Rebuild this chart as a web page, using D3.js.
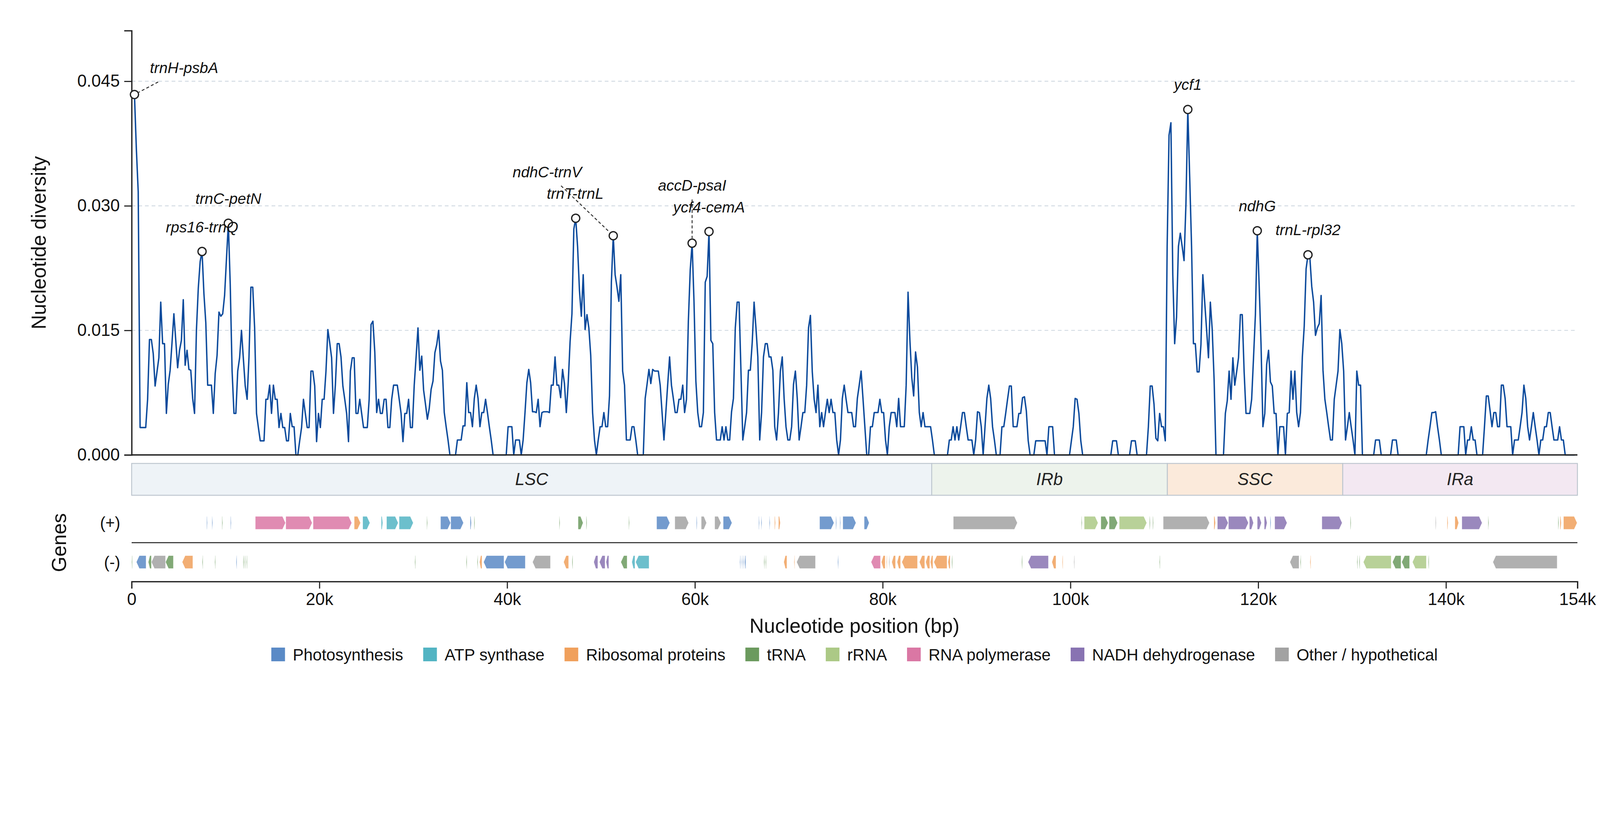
<!DOCTYPE html>
<html>
<head>
<meta charset="utf-8">
<script src="https://cdn.jsdelivr.net/npm/d3@7"></script>
<style>
  html, body { margin: 0; padding: 0; background: #fff; overflow: hidden; }
  svg { font-family: "Liberation Sans", Arial, sans-serif; display: block; width: 100vw; height: 100vh; }
</style>
</head>
<body>
<svg id="chart" viewBox="0 0 4322 2102" preserveAspectRatio="xMidYMin meet"></svg>
<script>
// sliding window: midpoint of the first window and the step (bp)
const windowStart = 300, windowStep = 200;

// nucleotide diversity (Pi) per window
const diversity = [
  0.0434,0.0369,0.0317,0.0033,0.0033,0.0033,0.0033,0.0067,0.0139,0.0139,
  0.0122,0.0083,0.0100,0.0117,0.0184,0.0134,0.0134,0.0050,0.0085,0.0102,
  0.0135,0.0170,0.0138,0.0105,0.0126,0.0138,0.0187,0.0108,0.0126,0.0103,
  0.0102,0.0068,0.0050,0.0150,0.0201,0.0233,0.0245,0.0194,0.0159,0.0084,
  0.0084,0.0084,0.0050,0.0098,0.0120,0.0172,0.0167,0.0170,0.0192,0.0236,
  0.0279,0.0206,0.0101,0.0050,0.0050,0.0101,0.0117,0.0150,0.0116,0.0083,
  0.0067,0.0118,0.0202,0.0202,0.0153,0.0050,0.0033,0.0017,0.0017,0.0017,
  0.0067,0.0067,0.0084,0.0050,0.0084,0.0067,0.0067,0.0033,0.0050,0.0033,
  0.0033,0.0017,0.0017,0.0050,0.0034,0.0034,0,0,0.0017,0.0033,
  0.0067,0.0050,0.0033,0.0033,0.0101,0.0101,0.0083,0.0016,0.0050,0.0033,
  0.0067,0.0067,0.0101,0.0151,0.0135,0.0117,0.0050,0.0084,0.0134,0.0134,
  0.0118,0.0083,0.0067,0.0050,0.0016,0.0101,0.0117,0.0117,0.0050,0.0050,
  0.0067,0.0050,0.0033,0.0033,0.0033,0.0067,0.0157,0.0161,0.0124,0.0051,
  0.0067,0.0050,0.0050,0.0067,0.0067,0.0033,0.0033,0.0067,0.0084,0.0084,
  0.0084,0.0067,0.0050,0.0016,0.0050,0.0050,0.0067,0.0033,0.0033,0.0084,
  0.0118,0.0153,0.0102,0.0119,0.0078,0.0061,0.0043,0.0056,0.0079,0.0089,
  0.0123,0.0133,0.0150,0.0113,0.0102,0.0051,0.0034,0.0018,0,0,
  0,0,0.0018,0.0018,0.0018,0.0035,0.0035,0.0087,0.0051,0.0051,
  0.0034,0.0068,0.0084,0.0068,0.0034,0.0051,0.0051,0.0067,0.0051,0.0034,
  0.0018,0,0,0,0,0,0,0,0,0.0034,
  0.0034,0.0034,0,0.0018,0.0018,0.0018,0,0.0018,0.0051,0.0087,
  0.0103,0.0087,0.0052,0.0052,0.0051,0.0067,0.0034,0.0051,0.0052,0.0052,
  0.0052,0.0051,0.0084,0.0084,0.0118,0.0084,0.0084,0.0069,0.0103,0.0086,
  0.0051,0.0086,0.0136,0.0170,0.0272,0.0285,0.0251,0.0198,0.0167,0.0217,
  0.0151,0.0169,0.0153,0.0120,0.0051,0.0018,0,0.0018,0.0034,0.0034,
  0.0051,0.0034,0.0034,0.0071,0.0208,0.0264,0.0217,0.0202,0.0185,0.0217,
  0.0101,0.0084,0.0018,0.0018,0.0018,0.0034,0.0034,0.0018,0,0,
  0,0,0.0068,0.0085,0.0103,0.0086,0.0103,0.0101,0.0101,0.0101,
  0.0084,0.0051,0.0018,0.0051,0.0085,0.0118,0.0084,0.0068,0.0051,0.0051,
  0.0067,0.0067,0.0084,0.0051,0.0067,0.0161,0.0223,0.0255,0.0185,0.0089,
  0.0051,0.0034,0.0034,0.0051,0.0208,0.0215,0.0269,0.0138,0.0134,0.0051,
  0.0018,0.0018,0.0018,0.0034,0.0018,0.0034,0.0018,0.0018,0.0052,0.0068,
  0.0153,0.0184,0.0184,0.0102,0.0018,0.0034,0.0051,0.0102,0.0102,0.0135,
  0.0184,0.0153,0.0118,0.0018,0.0051,0.0118,0.0134,0.0134,0.0118,0.0118,
  0.0102,0.0034,0.0018,0.0051,0.0101,0.0118,0.0068,0.0034,0.0018,0.0018,
  0.0034,0.0085,0.0101,0.0068,0.0018,0.0034,0.0051,0.0051,0.0084,0.0153,
  0.0168,0.0100,0.0067,0.0051,0.0084,0.0034,0.0051,0.0034,0.0051,0.0067,
  0.0051,0.0067,0.0051,0.0051,0.0018,0,0.0018,0.0068,0.0084,0.0067,
  0.0051,0.0051,0.0051,0.0034,0.0034,0.0068,0.0084,0.0101,0.0068,0.0034,
  0,0,0.0034,0.0034,0.0051,0.0051,0.0051,0.0067,0.0051,0.0051,
  0.0018,0,0.0034,0.0051,0.0051,0.0051,0.0034,0.0068,0.0034,0.0034,
  0.0034,0.0084,0.0196,0.0138,0.0093,0.0071,0.0124,0.0106,0.0051,0.0034,
  0.0051,0.0034,0.0034,0.0034,0.0034,0.0018,0,0,0,0,
  0,0,0,0,0.0018,0.0018,0.0034,0.0018,0.0034,0.0018,
  0.0034,0.0051,0.0051,0.0034,0.0018,0.0018,0.0018,0,0.0018,0.0052,
  0.0051,0.0034,0,0.0034,0.0068,0.0084,0.0068,0.0034,0.0018,0,
  0,0,0.0034,0.0034,0.0050,0.0067,0.0083,0.0083,0.0034,0.0034,
  0.0034,0.0050,0.0050,0.0069,0.0070,0.0053,0.0017,0,0,0,
  0.0017,0.0017,0.0017,0.0017,0.0017,0.0017,0,0.0034,0.0034,0.0034,
  0,0,0,0,0,0,0,0,0,0.0017,
  0.0034,0.0068,0.0067,0.0050,0.0017,0,0,0,0,0,
  0,0,0,0,0,0,0,0,0,0,
  0,0.0017,0.0017,0.0017,0,0,0,0,0,0,
  0,0.0017,0.0017,0.0017,0,0,0,0,0,0,
  0.0034,0.0083,0.0083,0.0061,0.0020,0.0017,0.0050,0.0034,0.0034,0.0017,
  0.0251,0.0385,0.0400,0.0217,0.0134,0.0166,0.0251,0.0267,0.0251,0.0234,
  0.0302,0.0416,0.0335,0.0251,0.0134,0.0134,0.0100,0.0100,0.0133,0.0217,
  0.0184,0.0151,0.0117,0.0184,0.0151,0.0091,0,0,0,0,
  0,0.0050,0.0065,0.0101,0.0067,0.0117,0.0084,0.0100,0.0117,0.0169,
  0.0169,0.0100,0.0050,0.0050,0.0050,0.0067,0.0117,0.0169,0.0270,0.0204,
  0.0133,0.0034,0.0050,0.0109,0.0126,0.0088,0.0083,0.0050,0.0050,0,
  0.0034,0.0034,0.0034,0,0.0050,0.0051,0.0101,0.0067,0.0101,0.0051,
  0.0034,0.0051,0.0118,0.0155,0.0224,0.0241,0.0238,0.0203,0.0184,0.0144,
  0.0153,0.0158,0.0192,0.0102,0.0067,0.0051,0.0034,0.0018,0.0018,0.0067,
  0.0084,0.0101,0.0151,0.0134,0.0101,0.0018,0.0034,0.0051,0.0034,0.0018,
  0,0.0101,0.0084,0.0084,0,0,0,0,0,0,
  0,0.0018,0.0018,0.0018,0,0,0,0,0,0,
  0.0018,0.0018,0.0018,0,0,0,0,0,0,0,
  0,0,0,0,0,0,0,0,0,0.0018,
  0.0034,0.0051,0.0051,0.0052,0.0034,0.0018,0,0,0,0,
  0,0,0,0,0,0,0.0034,0.0034,0.0034,0,
  0.0018,0.0018,0.0034,0.0018,0.0018,0,0,0,0,0.0034,
  0.0071,0.0071,0.0053,0.0034,0.0051,0.0051,0.0034,0.0034,0.0084,0.0084,
  0.0068,0.0034,0.0034,0.0034,0,0.0018,0.0018,0.0018,0.0034,0.0051,
  0.0084,0.0068,0.0034,0.0018,0.0034,0.0051,0.0034,0.0018,0,0.0018,
  0.0018,0.0034,0.0034,0.0051,0.0051,0.0034,0.0018,0.0018,0.0018,0.0034,
  0.0018,0.0018,0,0,0,0,0,0
];

// labelled hotspots
const peakNames = ["trnH-psbA","rps16-trnQ","trnC-petN","ndhC-trnV","trnT-trnL",
                   "accD-psaI","ycf4-cemA","ycf1","ndhG","trnL-rpl32"];
const peakPositions = [300, 7500, 10300, 47300, 51300, 59700, 61500, 112500, 119900, 125300];

// quadripartite regions
const regionNames = ["LSC", "IRb", "SSC", "IRa"];
const regionBounds = [0, 85220, 110320, 129000, 154000];

// gene categories
const categoryKeys = ["photo","atp","ribo","trna","rrna","rpo","ndh","other"];
const categoryLabels = ["Photosynthesis","ATP synthase","Ribosomal proteins","tRNA",
                        "rRNA","RNA polymerase","NADH dehydrogenase","Other / hypothetical"];

// genes [start, end, category]
const plusGenes = [
  [7990,8070,"photo"],[8550,8630,"photo"],[9620,9700,"trna"],[10530,10610,"photo"],
  [13175,16386,"rpo"],[16420,19228,"rpo"],[19328,23441,"rpo"],[23709,24378,"ribo"],
  [24612,25381,"atp"],[26585,26752,"atp"],[27153,28390,"atp"],[28491,29996,"atp"],
  [31430,31510,"trna"],[32905,33975,"photo"],[33990,35346,"photo"],[36060,36190,"photo"],
  [36480,36560,"trna"],[45540,45620,"trna"],[47552,48087,"trna"],[48420,48500,"trna"],
  [52940,53020,"trna"],[55920,57325,"photo"],[57860,59331,"other"],[60160,60240,"photo"],
  [60669,61237,"other"],[62107,62776,"other"],[63010,63946,"photo"],[66790,66870,"photo"],
  [67050,67130,"photo"],[67920,68000,"photo"],[68480,68580,"ribo"],[68900,69100,"ribo"],
  [73276,74814,"photo"],[75010,75090,"photo"],[75440,75520,"photo"],[75751,77155,"photo"],
  [78024,78559,"photo"],[87521,94343,"other"],[101160,101240,"trna"],[101466,102937,"rrna"],
  [103236,104012,"trna"],[104113,105024,"trna"],[105193,108127,"rrna"],[108420,108500,"trna"],
  [108760,108840,"trna"],[109881,114806,"other"],[115278,115446,"ribo"],[115649,116796,"ndh"],
  [116829,118954,"ndh"],[119056,119494,"ndh"],[119899,120337,"ndh"],[120641,120944,"ndh"],
  [121270,121360,"photo"],[121754,123069,"ndh"],[126780,128939,"ndh"],[129810,129890,"trna"],
  [138880,138960,"other"],[140120,140220,"ribo"],[140947,141351,"ribo"],[141688,143847,"ndh"],
  [144480,144560,"trna"],[151940,152020,"trna"],[152150,152280,"ribo"],[152516,153967,"ribo"]
];
const minusGenes = [
  [0,80,"trna"],[502,1538,"photo"],[1772,2107,"trna"],[2107,3612,"other"],
  [3612,4448,"trna"],[5384,6521,"ribo"],[7520,7600,"trna"],[8855,8935,"trna"],
  [11130,11210,"photo"],[11870,11950,"trna"],[12030,12110,"trna"],[12230,12310,"trna"],
  [30160,30240,"trna"],[35640,35720,"trna"],[36810,36890,"trna"],[37052,37319,"ribo"],
  [37486,39660,"photo"],[39727,41934,"photo"],[42703,44609,"other"],[46013,46548,"ribo"],
  [46910,46990,"trna"],[49223,49658,"ndh"],[49826,50428,"ndh"],[50528,50829,"ndh"],
  [52108,52777,"trna"],[53279,53613,"atp"],[53680,55118,"atp"],[64780,64860,"photo"],
  [64980,65060,"photo"],[65150,65230,"photo"],[65300,65420,"photo"],[67350,67430,"trna"],
  [67520,67600,"trna"],[69464,69798,"ribo"],[70560,70640,"ribo"],[70835,72841,"other"],
  [75210,75290,"photo"],[78760,79763,"rpo"],[79863,80265,"ribo"],[80390,80470,"ribo"],
  [80660,80740,"other"],[80967,81368,"ribo"],[81535,81903,"ribo"],[82037,83709,"ribo"],
  [83909,84478,"ribo"],[84578,85013,"ribo"],[85080,85348,"ribo"],[85448,86853,"ribo"],
  [86953,87187,"ribo"],[87350,87430,"trna"],[94800,94880,"trna"],[95480,97654,"ndh"],
  [98021,98456,"ribo"],[99120,99200,"ribo"],[100360,100440,"other"],[109470,109550,"trna"],
  [123373,124351,"other"],[124480,124560,"trna"],[125520,125610,"ribo"],[130520,130600,"trna"],
  [130750,130830,"trna"],[131198,134167,"rrna"],[134302,135213,"trna"],[135280,136123,"trna"],
  [136427,137911,"rrna"],[138110,138190,"trna"],[144995,151842,"other"]
];

// axis ticks
const xTicks = [0, 20000, 40000, 60000, 80000, 100000, 120000, 140000, 154000];
const yTicks = [0, 0.015, 0.030, 0.045];

// ---- styling / layout ----
const categoryColors = {
  photo: "#5a8ac6", atp: "#52b4c3", ribo: "#f0a05c", trna: "#6b9a5e",
  rrna: "#acc986", rpo: "#da77a4", ndh: "#8873b2", other: "#a2a2a2"
};
const regionFills = ["#eef3f7", "#edf3ec", "#fbeadb", "#f3e8f2"];
// label offsets from each hotspot (dx, dy of text; optional leader end)
const labelLayout = [
  {dx: 134, dy: -58, leader: [64, -34]},
  {dx: 0, dy: -52}, {dx: 0, dy: -52},
  {dx: -77, dy: -111},
  {dx: -103, dy: -100, leader: [-141, -135]},
  {dx: 0, dy: -142, leader: [0, -118]},
  {dx: 0, dy: -52}, {dx: 0, dy: -53}, {dx: 0, dy: -53}, {dx: 0, dy: -53}
];

const L = 355.6, R = 4261;
const plotTop = 82.7, plotBottom = 1229;
const bandTop = 1252, bandBottom = 1338;
const plusTop = 1395, minusTop = 1501, geneH = 35;
const trackSep = 1466, geneAxisY = 1571;
const lineColor = "#0c4a9c";

const svg = d3.select("#chart");
svg.append("rect").attr("width", 4322).attr("height", 2102).attr("fill", "#fff");

const x = d3.scaleLinear().domain([0, 154000]).range([L, R]);
const y = d3.scaleLinear().domain([0, 0.0511]).range([plotBottom, plotTop]);

// grid
svg.append("g").selectAll("line")
  .data(yTicks.filter(d => d > 0))
  .join("line")
  .attr("x1", L).attr("x2", R)
  .attr("y1", d => y(d)).attr("y2", d => y(d))
  .attr("stroke", "#d3dbe3").attr("stroke-width", 2.5)
  .attr("stroke-dasharray", "10,8");

// diversity line
const pts = diversity.map((v, i) => ({pos: windowStart + i * windowStep, v: v}));
svg.append("path")
  .datum(pts)
  .attr("fill", "none")
  .attr("stroke", lineColor)
  .attr("stroke-width", 3.8)
  .attr("stroke-linejoin", "round")
  .attr("d", d3.line().x(d => x(d.pos)).y(d => y(d.v)));

// y axis
const yAxis = svg.append("g")
  .attr("transform", "translate(" + L + ",0)")
  .call(d3.axisLeft(y).tickValues(yTicks).tickFormat(d3.format(".3f"))
    .tickSize(20).tickPadding(12));
yAxis.select(".domain").attr("stroke", "#222").attr("stroke-width", 3.5);
yAxis.selectAll(".tick line").attr("stroke", "#222").attr("stroke-width", 3);
yAxis.selectAll(".tick text").attr("font-size", 46).attr("fill", "#111")
  .attr("font-family", "Liberation Sans, Arial, sans-serif");

// baseline of the diversity panel
svg.append("line")
  .attr("x1", L).attr("x2", R).attr("y1", plotBottom).attr("y2", plotBottom)
  .attr("stroke", "#222").attr("stroke-width", 3.5);

svg.append("text")
  .attr("transform", "translate(105," + ((plotTop + plotBottom) / 2) + ") rotate(-90)")
  .attr("text-anchor", "middle").attr("dominant-baseline", "central")
  .attr("font-size", 54).attr("fill", "#111")
  .text("Nucleotide diversity");

// hotspots
const peaks = peakNames.map((name, k) => {
  const idx = Math.round((peakPositions[k] - windowStart) / windowStep);
  return {name: name, px: x(peakPositions[k]), py: y(diversity[idx]), lay: labelLayout[k]};
});
const r = 11;
svg.append("g").selectAll("line")
  .data(peaks.filter(p => p.lay.leader))
  .join("line")
  .each(function(p) {
    const ex = p.lay.leader[0], ey = p.lay.leader[1];
    const len = Math.hypot(ex, ey);
    d3.select(this)
      .attr("x1", p.px + ex).attr("y1", p.py + ey)
      .attr("x2", p.px + ex / len * (r + 2)).attr("y2", p.py + ey / len * (r + 2));
  })
  .attr("stroke", "#333").attr("stroke-width", 2.6).attr("stroke-dasharray", "8,6");
svg.append("g").selectAll("circle")
  .data(peaks)
  .join("circle")
  .attr("cx", p => p.px).attr("cy", p => p.py).attr("r", r)
  .attr("fill", "#fff").attr("stroke", "#222").attr("stroke-width", 3.4);
svg.append("g").selectAll("text")
  .data(peaks)
  .join("text")
  .attr("x", p => p.px + p.lay.dx).attr("y", p => p.py + p.lay.dy)
  .attr("text-anchor", "middle")
  .attr("font-size", 41).attr("font-style", "italic").attr("fill", "#111")
  .text(p => p.name);

// region band
const regions = regionNames.map((n, i) => ({name: n, s: regionBounds[i], e: regionBounds[i + 1], fill: regionFills[i]}));
svg.append("g").selectAll("rect")
  .data(regions)
  .join("rect")
  .attr("x", d => x(d.s)).attr("y", bandTop)
  .attr("width", d => x(d.e) - x(d.s)).attr("height", bandBottom - bandTop)
  .attr("fill", d => d.fill).attr("stroke", "#bcc5ce").attr("stroke-width", 2.5);
svg.append("g").selectAll("text")
  .data(regions)
  .join("text")
  .attr("x", d => (x(d.s) + x(d.e)) / 2).attr("y", (bandTop + bandBottom) / 2)
  .attr("text-anchor", "middle").attr("dominant-baseline", "central")
  .attr("font-size", 46).attr("font-style", "italic").attr("fill", "#222")
  .text(d => d.name);

// gene tracks
function genePath(g, strand, top) {
  const x0 = x(g[0]), x1 = x(g[1]), w = x1 - x0;
  const head = Math.min(8, w * 0.5), mid = top + geneH / 2, bot = top + geneH;
  if (strand > 0) {
    return "M" + x0 + "," + top + "L" + (x1 - head) + "," + top + "L" + x1 + "," + mid +
           "L" + (x1 - head) + "," + bot + "L" + x0 + "," + bot + "Z";
  }
  return "M" + x1 + "," + top + "L" + (x0 + head) + "," + top + "L" + x0 + "," + mid +
         "L" + (x0 + head) + "," + bot + "L" + x1 + "," + bot + "Z";
}
svg.append("g").selectAll("path")
  .data(plusGenes)
  .join("path")
  .attr("d", g => genePath(g, 1, plusTop))
  .attr("fill", g => categoryColors[g[2]]).attr("fill-opacity", 0.85)
  .attr("stroke", "#fff").attr("stroke-width", 0.8);
svg.append("g").selectAll("path")
  .data(minusGenes)
  .join("path")
  .attr("d", g => genePath(g, -1, minusTop))
  .attr("fill", g => categoryColors[g[2]]).attr("fill-opacity", 0.85)
  .attr("stroke", "#fff").attr("stroke-width", 0.8);

svg.append("line")
  .attr("x1", L).attr("x2", R).attr("y1", trackSep).attr("y2", trackSep)
  .attr("stroke", "#333").attr("stroke-width", 3);

svg.append("text").attr("x", 325).attr("y", plusTop + geneH / 2)
  .attr("text-anchor", "end").attr("dominant-baseline", "central")
  .attr("font-size", 44).attr("fill", "#111").text("(+)");
svg.append("text").attr("x", 325).attr("y", minusTop + geneH / 2)
  .attr("text-anchor", "end").attr("dominant-baseline", "central")
  .attr("font-size", 44).attr("fill", "#111").text("(-)");
svg.append("text")
  .attr("transform", "translate(160," + trackSep + ") rotate(-90)")
  .attr("text-anchor", "middle").attr("dominant-baseline", "central")
  .attr("font-size", 54).attr("fill", "#111").text("Genes");

// x axis
const xAxis = svg.append("g")
  .attr("transform", "translate(0," + geneAxisY + ")")
  .call(d3.axisBottom(x).tickValues(xTicks)
    .tickFormat(d => d === 0 ? "0" : (d / 1000) + "k")
    .tickSize(19).tickPadding(12));
xAxis.select(".domain").attr("stroke", "#222").attr("stroke-width", 3.5);
xAxis.selectAll(".tick line").attr("stroke", "#222").attr("stroke-width", 3);
xAxis.selectAll(".tick text").attr("font-size", 46).attr("fill", "#111")
  .attr("font-family", "Liberation Sans, Arial, sans-serif");

svg.append("text")
  .attr("x", (L + R) / 2).attr("y", 1709)
  .attr("text-anchor", "middle")
  .attr("font-size", 54).attr("fill", "#111")
  .text("Nucleotide position (bp)");

// legend
const legend = svg.append("g");
const sq = 37, gapText = 21, gapItem = 54, legendY = 1769;
let cursor = 0;
categoryKeys.forEach((k, i) => {
  const g = legend.append("g");
  g.append("rect").attr("x", 0).attr("y", legendY - sq / 2 - 1).attr("width", sq).attr("height", sq)
    .attr("fill", categoryColors[k]);
  const t = g.append("text").attr("x", sq + gapText).attr("y", legendY)
    .attr("dominant-baseline", "central").attr("font-size", 44).attr("fill", "#111")
    .text(categoryLabels[i]);
  const w = sq + gapText + t.node().getComputedTextLength();
  g.attr("transform", "translate(" + cursor + ",0)");
  cursor += w + gapItem;
});
const legendW = cursor - gapItem;
legend.attr("transform", "translate(" + ((L + R) / 2 - legendW / 2) + ",0)");
</script>
</body>
</html>
